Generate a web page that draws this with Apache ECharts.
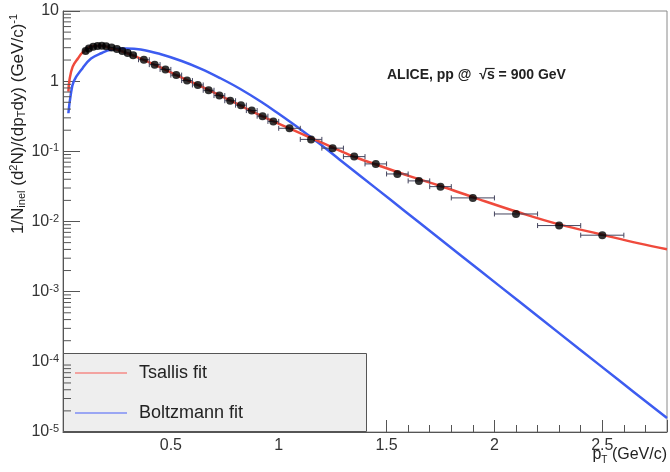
<!DOCTYPE html>
<html>
<head>
<meta charset="utf-8">
<script src="https://cdn.jsdelivr.net/npm/echarts@6/dist/echarts.min.js"></script>
<style>
  html, body { margin: 0; padding: 0; background: #ffffff; }
  #chart { width: 670px; height: 472px; }
</style>
</head>
<body>
<div id="chart"></div>
<script>
// Measured charged-pion spectrum: bin centre (GeV/c), yield, half bin width
const ptCenters = [0.105, 0.12, 0.14, 0.16, 0.18, 0.2, 0.225, 0.25, 0.275, 0.3, 0.325,
  0.375, 0.425, 0.475, 0.525, 0.575, 0.625, 0.675, 0.725, 0.775, 0.825, 0.875, 0.925, 0.975,
  1.05, 1.15, 1.25, 1.35, 1.45, 1.55, 1.65, 1.75, 1.9, 2.1, 2.3, 2.5];
const yields = [2.69, 2.92, 3.09, 3.17, 3.21, 3.15, 3.02, 2.88, 2.69, 2.52, 2.35,
  2.02, 1.72, 1.47, 1.22, 1.02, 0.883, 0.742, 0.623, 0.526, 0.455, 0.381, 0.317, 0.267,
  0.213, 0.148, 0.111, 0.0841, 0.0662, 0.0476, 0.0379, 0.0314, 0.0217, 0.0128, 0.00875, 0.00638];
const ptHalfWidths = [0.0075, 0.01, 0.01, 0.01, 0.01, 0.01, 0.0125, 0.0125, 0.0125, 0.0125, 0.0125,
  0.025, 0.025, 0.025, 0.025, 0.025, 0.025, 0.025, 0.025, 0.025, 0.025, 0.025, 0.025, 0.025,
  0.05, 0.05, 0.05, 0.05, 0.05, 0.05, 0.05, 0.05, 0.1, 0.1, 0.1, 0.1];

// Tsallis fit curve
const tsallisPt = [0.025, 0.03, 0.045, 0.07, 0.09, 0.13, 0.18, 0.22, 0.27, 0.36, 0.45, 0.55, 0.64,
  0.78, 0.92, 1.05, 1.2, 1.33, 1.47, 1.61, 1.75, 1.93, 2.12, 2.3, 2.49, 2.67, 2.8];
const tsallisVal = [0.71, 1.04, 1.61, 2.12, 2.55, 3.12, 3.19, 2.97, 2.69, 2.10, 1.58, 1.12, 0.845,
  0.522, 0.32, 0.212, 0.133, 0.0885, 0.0619, 0.044, 0.0321, 0.0207, 0.0133, 0.0091, 0.00659, 0.00488, 0.00403];

// Boltzmann fit curve
const boltzPt = [0.025, 0.035, 0.05, 0.09, 0.13, 0.18, 0.22, 0.29, 0.36, 0.45, 0.55, 0.64, 0.73,
  0.82, 0.92, 1.0, 1.1, 1.19, 1.28, 1.38, 1.52, 1.65, 1.84, 2.02, 2.21, 2.39, 2.58, 2.8];
const boltzVal = [0.349, 0.615, 1.0, 1.52, 2.10, 2.52, 2.80, 2.92, 2.83, 2.44, 1.94, 1.50, 1.10,
  0.78, 0.505, 0.343, 0.207, 0.128, 0.0773, 0.0442, 0.0202, 0.00975, 0.00337, 0.00123,
  4.25e-4, 1.55e-4, 5.37e-5, 1.58e-5];

// Log-axis decades and the 2..9 subdivisions drawn as minor ticks
const decades = [1e-5, 1e-4, 1e-3, 1e-2, 1e-1, 1];
const minorSteps = [2, 3, 4, 5, 6, 7, 8, 9];

const FONT = '"Liberation Sans", Arial, Helvetica, sans-serif';
const RED = '#ef4a3c';
const BLUE = '#3d5cf0';

const pointData = ptCenters.map((x, i) => [x, yields[i], ptHalfWidths[i]]);
const tsallisData = tsallisPt.map((x, i) => [x, tsallisVal[i]]);
const boltzData = boltzPt.map((x, i) => [x, boltzVal[i]]);
const minorTickData = [];
decades.forEach(d => minorSteps.forEach(m => minorTickData.push([0, d * m])));

// Energy label, with an overline joining the radical sign over "s"
const LABEL_X = 387, LABEL_Y = 75, LABEL_FONT = 'bold 14px ' + FONT;
const labelPrefix = 'ALICE, pp @  ';
const measureCtx = document.createElement('canvas').getContext('2d');
measureCtx.font = LABEL_FONT;
const wPrefix = measureCtx.measureText(labelPrefix).width;
const wRoot = measureCtx.measureText('\u221A').width;
const wS = measureCtx.measureText('s').width;
const barX1 = LABEL_X + wPrefix + wRoot * 0.8;
const barX2 = LABEL_X + wPrefix + wRoot + wS;

const chart = echarts.init(document.getElementById('chart'), null, { renderer: 'canvas' });

chart.setOption({
  animation: false,
  backgroundColor: '#ffffff',
  textStyle: { fontFamily: FONT },
  grid: {
    left: 63, top: 11, width: 604, height: 421,
    show: true, borderColor: '#8a8a8a', borderWidth: 1, backgroundColor: 'transparent'
  },
  xAxis: {
    type: 'value', min: 0, max: 2.8, interval: 0.5,
    axisLine: { show: true, lineStyle: { color: '#555', width: 1 } },
    axisTick: { show: true, inside: true, length: 12, lineStyle: { color: '#555' } },
    minorTick: { show: true, splitNumber: 5, length: 7, lineStyle: { color: '#555' } },
    splitLine: { show: false },
    axisLabel: {
      margin: 6, fontSize: 16, color: '#333', fontFamily: FONT,
      showMinLabel: false, showMaxLabel: false,
      formatter: v => (v === 0 || v > 2.6 ? '' : String(v))
    }
  },
  yAxis: {
    type: 'log', logBase: 10, min: 1e-5, max: 10,
    axisLine: { show: true, lineStyle: { color: '#555', width: 1 } },
    axisTick: { show: true, inside: true, length: 17, lineStyle: { color: '#555' } },
    splitLine: { show: false },
    axisLabel: {
      margin: 4, fontSize: 16, color: '#333', fontFamily: FONT,
      formatter: v => {
        const e = Math.round(Math.log10(v));
        if (e === 1) return '10';
        if (e === 0) return '1';
        return '10{s|' + e + '}';
      },
      rich: { s: { fontSize: 11, verticalAlign: 'top', color: '#333', fontFamily: FONT, padding: [0, 0, 6, 0] } }
    }
  },
  legend: {
    orient: 'vertical', left: 75, top: 364, z: 10, padding: 0,
    itemWidth: 52, itemHeight: 2, itemGap: 22, icon: 'rect',
    textStyle: { fontSize: 18, color: '#222', fontFamily: FONT, padding: [0, 0, 0, 7] },
    data: [
      { name: 'Tsallis fit', itemStyle: { color: '#f3a3a0' } },
      { name: 'Boltzmann fit', itemStyle: { color: '#9aa6f3' } }
    ]
  },
  graphic: [
    {
      type: 'rect', z: 5, silent: true,
      shape: { x: 63.5, y: 353.5, width: 303, height: 78 },
      style: { fill: '#eeeeee', stroke: '#555', lineWidth: 1 }
    },
    {
      type: 'text', x: 18, y: 124, rotation: Math.PI / 2, z: 10, silent: true,
      style: {
        text: '1/N{sub|inel} (d{sup|2}N)/(dp{sub|T}dy) (GeV/c){sup|-1}',
        font: '17px ' + FONT, fill: '#222', align: 'center', verticalAlign: 'middle',
        rich: {
          sub: { fontSize: 11, fontFamily: FONT, fill: '#222', verticalAlign: 'bottom', padding: [8, 0, 0, 0] },
          sup: { fontSize: 11, fontFamily: FONT, fill: '#222', verticalAlign: 'top', padding: [0, 0, 8, 0] }
        }
      }
    },
    {
      type: 'text', x: LABEL_X, y: LABEL_Y, z: 10, silent: true,
      style: {
        text: labelPrefix + '\u221As = 900 GeV',
        font: LABEL_FONT, fill: '#222', align: 'left', verticalAlign: 'middle'
      }
    },
    {
      type: 'line', z: 10, silent: true,
      shape: { x1: barX1, y1: LABEL_Y - 6.5, x2: barX2, y2: LABEL_Y - 6.5 },
      style: { stroke: '#222', lineWidth: 1.2 }
    },
    {
      type: 'text', x: 667, y: 455, z: 10, silent: true,
      style: {
        text: 'p{sub|T} (GeV/c)',
        font: '16px ' + FONT, fill: '#222', align: 'right', verticalAlign: 'middle',
        rich: {
          sub: { fontSize: 10, fontFamily: FONT, fill: '#222', verticalAlign: 'bottom', padding: [10, 0, 0, 0] }
        }
      }
    }
  ],
  series: [
    {
      name: 'Boltzmann fit', type: 'line', data: boltzData, smooth: 0.4,
      showSymbol: false, symbol: 'none', z: 2,
      lineStyle: { color: BLUE, width: 2.5 }, itemStyle: { color: BLUE }
    },
    {
      name: 'Tsallis fit', type: 'line', data: tsallisData, smooth: 0.4,
      showSymbol: false, symbol: 'none', z: 3,
      lineStyle: { color: RED, width: 2.5 }, itemStyle: { color: RED }
    },
    {
      // horizontal bin-width error bars with end caps
      name: 'bins', type: 'custom', data: pointData, z: 4, silent: true,
      renderItem: (params, api) => {
        const x = api.value(0), y = api.value(1), h = api.value(2);
        const a = api.coord([x - h, y]);
        const b = api.coord([x + h, y]);
        const st = { stroke: '#45455e', lineWidth: 1 };
        return {
          type: 'group',
          children: [
            { type: 'line', shape: { x1: a[0], y1: a[1], x2: b[0], y2: b[1] }, style: st },
            { type: 'line', shape: { x1: a[0], y1: a[1] - 2.5, x2: a[0], y2: a[1] + 2.5 }, style: st },
            { type: 'line', shape: { x1: b[0], y1: b[1] - 2.5, x2: b[0], y2: b[1] + 2.5 }, style: st }
          ]
        };
      }
    },
    {
      name: 'data', type: 'scatter', data: pointData.map(d => [d[0], d[1]]),
      symbol: 'circle', symbolSize: 8, z: 5, silent: true,
      itemStyle: { color: '#000' }
    },
    {
      // 2..9 minor ticks on the logarithmic axis
      name: 'yminor', type: 'custom', data: minorTickData, z: 6, silent: true,
      renderItem: (params, api) => {
        const p = api.coord([api.value(0), api.value(1)]);
        return {
          type: 'line',
          shape: { x1: p[0], y1: p[1], x2: p[0] + 8, y2: p[1] },
          style: { stroke: '#555', lineWidth: 1 }
        };
      }
    }
  ]
});
</script>
</body>
</html>
